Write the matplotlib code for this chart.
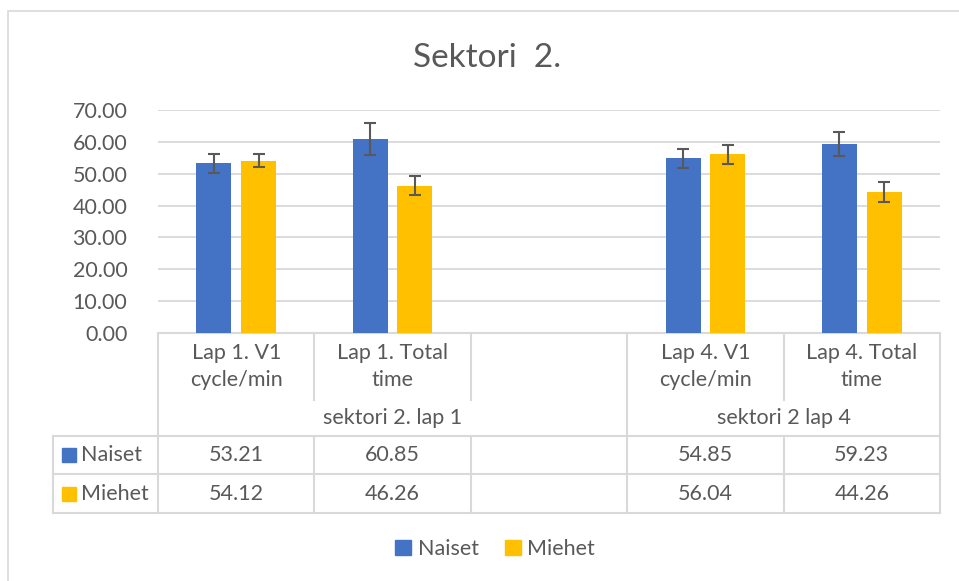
import matplotlib
matplotlib.use("Agg")
import matplotlib.pyplot as plt
import matplotlib.patches as mpatches
import numpy as np

plt.rcParams['font.family'] = ['Lato', 'DejaVu Sans']

# data
categories = ["Lap 1. V1\ncycle/min", "Lap 1. Total\ntime", "", "Lap 4. V1\ncycle/min", "Lap 4. Total\ntime"]
groups = ["sektori 2. lap 1", "sektori 2 lap 4"]
group_span = [(0, 2), (3, 4)]
naiset = [53.21, 60.85, np.nan, 54.85, 59.23]
miehet = [54.12, 46.26, np.nan, 56.04, 44.26]
naiset_err = [3.0, 5.1, np.nan, 3.0, 3.8]
miehet_err = [2.1, 3.0, np.nan, 3.0, 3.1]
series = ["Naiset", "Miehet"]
colors = ["#4472C4", "#FFC000"]

txt = "#595959"
grid = "#d9d9d9"

W, H = 959, 581
fig = plt.figure(figsize=(W / 100, H / 100), dpi=100)
# axes box in pixels: x 158..940, y 110..333
ax = fig.add_axes([158 / W, (H - 333) / H, 782 / W, 223 / H])
axw, axh = 782.0, 223.0

x = np.arange(len(categories))
bw = 0.224
off = 0.143
ax.bar(x - off, naiset, bw, color=colors[0], yerr=naiset_err, capsize=4.5,
       error_kw=dict(ecolor=txt, elinewidth=1.5, capthick=1.5), zorder=3)
ax.bar(x + off, miehet, bw, color=colors[1], yerr=miehet_err, capsize=4.5,
       error_kw=dict(ecolor=txt, elinewidth=1.5, capthick=1.5), zorder=3)

ax.set_xlim(-0.5, len(categories) - 0.5)
ax.set_ylim(0, 70)
ax.set_yticks(np.arange(0, 71, 10))
ax.set_yticklabels(["%.2f" % v for v in np.arange(0, 71, 10)])
ax.tick_params(axis='y', length=0, pad=22, labelsize=15.5, labelcolor=txt)
ax.set_xticks([])
ax.yaxis.grid(True, color=grid, linewidth=1.3, zorder=0)
for s in ["top", "right", "left"]:
    ax.spines[s].set_visible(False)
ax.spines["bottom"].set_color(grid)
ax.spines["bottom"].set_linewidth(1.5)

# --- data table below the axes (pixel offsets below axis bottom) ---
def py(p):
    return -p / axh

def px(p):
    return (p - 158) / axw

r_hdr, r_grp, r_n, r_m = 67, 103, 141, 180
lk = dict(color=grid, linewidth=1.5, clip_on=False, transform=ax.transAxes)
trx = matplotlib.transforms.blended_transform_factory(ax.transData, ax.transAxes)
lkx = dict(color=grid, linewidth=1.5, clip_on=False, transform=trx)

# horizontal lines
for yy in [r_grp, r_n, r_m]:
    ax.plot([px(53), 1], [py(yy), py(yy)], **lk)
ax.plot([px(53), px(53)], [py(r_grp), py(r_m)], **lk)

# vertical lines at category boundaries
bounds = np.arange(len(categories) + 1) - 0.5
group_edges = [-0.5] + [g[1] + 0.5 for g in group_span]
for b in bounds:
    if b in group_edges:
        ax.plot([b, b], [0, py(r_m)], **lkx)
    else:
        ax.plot([b, b], [0, py(r_hdr)], **lkx)
        ax.plot([b, b], [py(r_grp), py(r_m)], **lkx)

fs = 15.5
for i, c in enumerate(categories):
    ax.text(i, py(r_hdr / 2), c, transform=trx, ha='center', va='center',
            fontsize=fs, color=txt, linespacing=1.38)
for g, (a, b) in zip(groups, group_span):
    ax.text((a + b) / 2, py((r_hdr + r_grp) / 2), g, transform=trx,
            ha='center', va='center', fontsize=fs, color=txt)
for vals, yy0, yy1 in [(naiset, r_grp, r_n), (miehet, r_n, r_m)]:
    for i, v in enumerate(vals):
        if not np.isnan(v):
            ax.text(i, py((yy0 + yy1) / 2), "%.2f" % v, transform=trx,
                    ha='center', va='center', fontsize=fs, color=txt)

# row labels with legend keys
for name, col, yy0, yy1 in [(series[0], colors[0], r_grp, r_n), (series[1], colors[1], r_n, r_m)]:
    yc = (yy0 + yy1) / 2
    ax.add_patch(mpatches.Rectangle((px(62), py(yc + 7)), 14 / axw, 14 / axh,
                                    color=col, transform=ax.transAxes, clip_on=False))
    ax.text(px(81), py(yc), name, transform=ax.transAxes, ha='left', va='center',
            fontsize=fs, color=txt)

# title
fig.text(487 / W, 1 - 67 / H, "Sektori  2.", ha='center', va='baseline',
         fontsize=24, color=txt)

# legend
handles = [mpatches.Patch(color=c, label=s) for c, s in zip(colors, series)]
fig.legend(handles=handles, loc='center', bbox_to_anchor=(495 / W, 1 - 549 / H),
           ncol=2, frameon=False, fontsize=fs, labelcolor=txt,
           handlelength=0.75, handleheight=0.75, handletextpad=0.3, columnspacing=1.2)

# chart border
fig.patches.append(mpatches.Rectangle((8 / W, -0.1), 1.2, 1 - 11 / H + 0.1,
                                      transform=fig.transFigure, fill=False,
                                      edgecolor=grid, linewidth=1.2))

fig.savefig("out.png", dpi=100)
